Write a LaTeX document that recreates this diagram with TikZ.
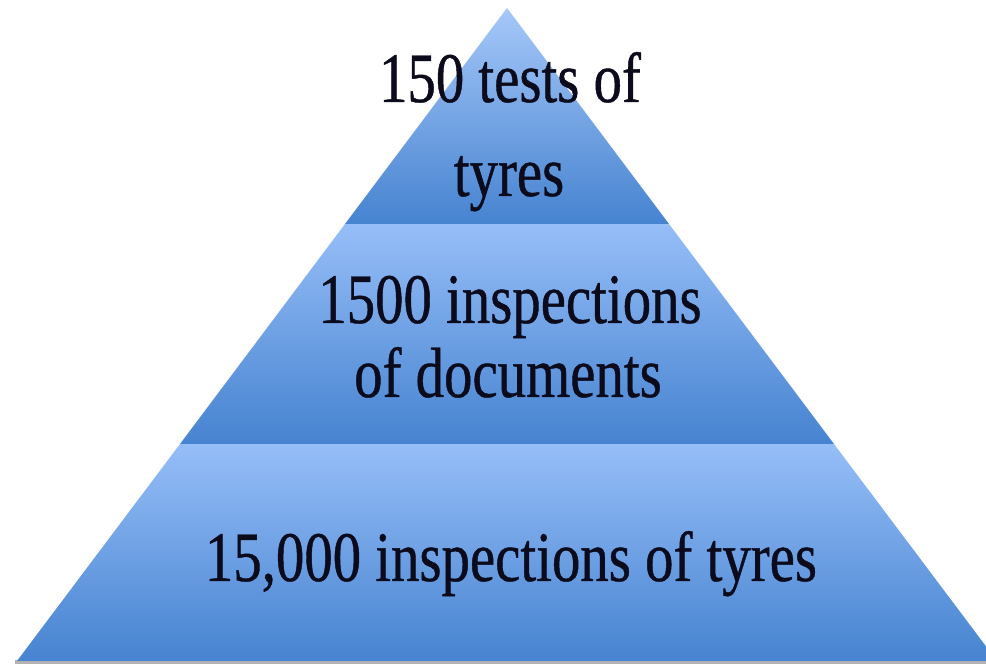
\documentclass[tikz,border=0pt]{standalone}
\usepackage{fontspec}
\newfontfamily\pyr[FakeStretch=0.8,FakeBold=0.6]{Liberation Serif}
\definecolor{tierlight}{HTML}{96BEF8}
\definecolor{tierdark}{HTML}{4683D0}
\definecolor{inkdark}{HTML}{0B0B1C}
\tikzset{
  tier/.style={top color=tierlight, bottom color=tierdark, draw=none},
  lbl/.style={anchor=base, inner sep=0pt, font=\pyr\fontsize{71}{71}\selectfont, text=inkdark},
}
\begin{document}
\begin{tikzpicture}[x=1pt,y=1pt]
\useasboundingbox (0,0) rectangle (986,664);
\clip (0,0) rectangle (986,664);
% base shadow
\fill[black!30] (15,0) rectangle (986,3.5);
% tiers
\shade[tier] (17,3) -- (180,220) -- (834,220) -- (997,3) -- cycle;
\shade[tier] (180,220) -- (345,440) -- (669,440) -- (834,220) -- cycle;
\shade[tier, top color=tierlight!85!white] (345,440) -- (507,656) -- (669,440) -- cycle;
% labels
\node[lbl] (t1) at (510,562) {150 tests of};
\node[lbl] (t2) at (509,468) {tyres};
\node[lbl] (m1) at (510,341) {1500 inspections};
\node[lbl] (m2) at (508,267) {of documents};
\node[lbl] (b1) at (511,83) {15,000 inspections of tyres};
\end{tikzpicture}
\end{document}
